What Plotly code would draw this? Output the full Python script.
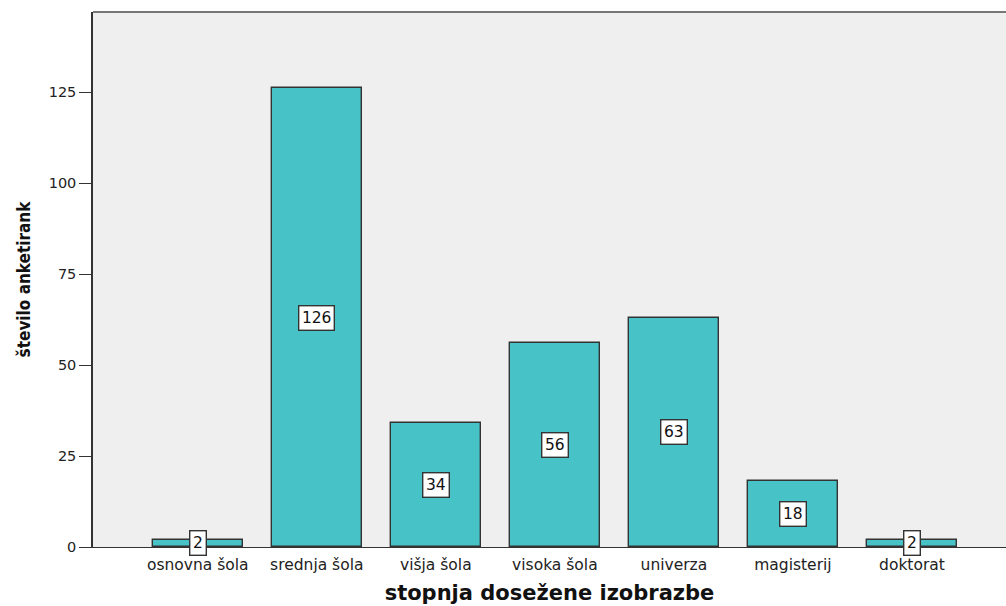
import plotly.graph_objects as go

categories = ["osnovna šola", "srednja šola", "višja šola", "visoka šola",
              "univerza", "magisterij", "doktorat"]
counts = [2, 126, 34, 56, 63, 18, 2]
y_ticks = [0, 25, 50, 75, 100, 125]

bar_fill = "#47C2C6"
edge = "#333333"

fig = go.Figure()
fig.add_trace(go.Bar(
    x=list(range(len(categories))),
    y=counts,
    width=0.757,
    marker=dict(color=bar_fill, line=dict(color=edge, width=1.4)),
    hoverinfo="skip",
))

# value labels in white boxes at half bar height
for i, v in enumerate(counts):
    fig.add_annotation(
        x=i, y=v / 2, text=str(v), showarrow=False,
        font=dict(family="DejaVu Sans", size=15.5, color="#111111"),
        bgcolor="white", bordercolor="#333333", borderwidth=1.4, borderpad=2.5,
    )

fig.update_layout(
    width=1006, height=606,
    margin=dict(l=93, r=0, t=12, b=59),
    paper_bgcolor="white",
    plot_bgcolor="#EFEFEF",
    showlegend=False,
    bargap=0,
    font=dict(family="DejaVu Sans", size=14, color="#222222"),
    xaxis=dict(
        tickmode="array",
        tickvals=list(range(len(categories))),
        ticktext=categories,
        range=[-0.88, 6.79],
        showgrid=False, zeroline=False,
        showline=True, linecolor="#333333", linewidth=1.3,
        ticks="", tickfont=dict(size=15.5, color="#222222"),
        ticklabelstandoff=3,
        title=dict(text="stopnja dosežene izobrazbe", standoff=12,
                   font=dict(family="DejaVu Sans", size=21, color="#111111",
                             weight="bold")),
    ),
    yaxis=dict(
        range=[0, 147],
        tickvals=y_ticks,
        showgrid=False, zeroline=False,
        showline=True, linecolor="#333333", linewidth=1.5,
        ticks="outside", ticklen=12, tickcolor="#333333", tickwidth=1.3,
        tickfont=dict(size=14.5, color="#222222"),
        title=dict(text="število anketirank", standoff=14,
                   font=dict(family="DejaVu Sans Condensed, Liberation Sans, sans-serif",
                             size=17, color="#111111", weight="bold")),
    ),
    shapes=[dict(type="line", xref="paper", yref="paper", x0=0, x1=1, y0=1, y1=1,
                 line=dict(color="#777777", width=2))],
)

fig.write_html("out.html")
